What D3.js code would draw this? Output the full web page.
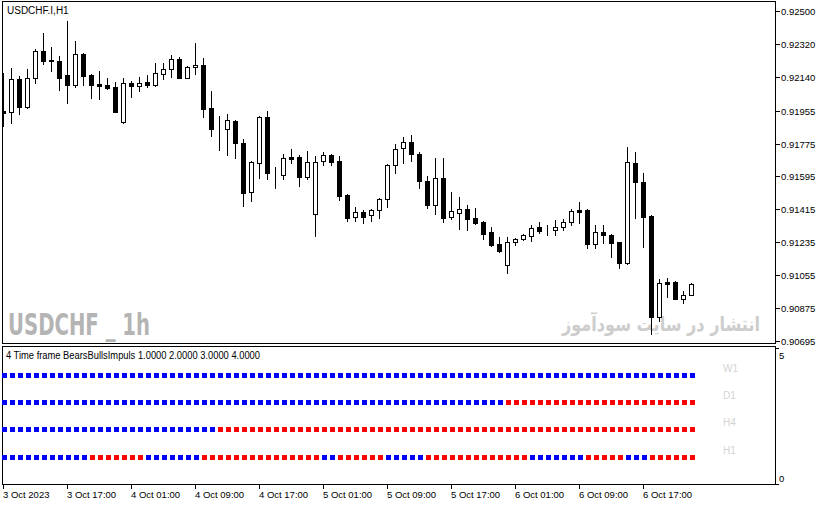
<!DOCTYPE html>
<html>
<head>
<meta charset="utf-8">
<script src="https://cdnjs.cloudflare.com/ajax/libs/d3/7.8.5/d3.min.js"></script>
<style>
  body { margin: 0; background: #fff; }
  svg { display: block; font-family: "Liberation Sans", Arial, sans-serif; }
</style>
</head>
<body>
<div id="chart"></div>
<script>
// USDCHF.I H1 bars, 3 Oct 2023 09:00 .. 6 Oct 2023 23:00
var startTime = new Date(2023, 9, 3, 9, 0)

var opens = [0.91953,0.91948,0.92128,0.91975,0.92134,0.92281,0.92232,0.92227,0.92150,0.92095,
  0.92265,0.92150,0.92101,0.92095,0.92084,0.91893,0.92106,0.92090,0.92112,0.92095,
  0.92155,0.92183,0.92237,0.92134,0.92194,0.92205,0.91969,0.91857,0.91855,0.91898,
  0.91778,0.91510,0.91669,0.91920,0.91610,0.91603,0.91701,0.91701,0.91592,0.91390,
  0.91680,0.91712,0.91680,0.91494,0.91373,0.91401,0.91384,0.91412,0.91472,0.91658,
  0.91751,0.91783,0.91718,0.91570,0.91439,0.91587,0.91373,0.91395,0.91417,0.91368,
  0.91346,0.91291,0.91226,0.91111,0.91236,0.91253,0.91269,0.91318,0.91308,0.91302,
  0.91318,0.91346,0.91409,0.91412,0.91226,0.91291,0.91275,0.91236,0.91122,0.91669,
  0.91565,0.91379,0.90826,0.91015,0.91018,0.90925,0.90947]
var highs = [0.92161,0.92188,0.92144,0.92183,0.92292,0.92380,0.92303,0.92254,0.92445,0.92336,
  0.92268,0.92153,0.92172,0.92134,0.92112,0.92134,0.92117,0.92139,0.92150,0.92216,
  0.92216,0.92259,0.92248,0.92199,0.92325,0.92243,0.92062,0.91926,0.91937,0.91904,
  0.91800,0.91677,0.91923,0.91953,0.91647,0.91718,0.91745,0.91712,0.91734,0.91707,
  0.91729,0.91718,0.91707,0.91497,0.91428,0.91412,0.91417,0.91477,0.91663,0.91772,
  0.91811,0.91822,0.91729,0.91597,0.91696,0.91696,0.91510,0.91483,0.91439,0.91422,
  0.91349,0.91318,0.91264,0.91264,0.91256,0.91278,0.91329,0.91346,0.91329,0.91357,
  0.91362,0.91417,0.91455,0.91417,0.91329,0.91329,0.91278,0.91239,0.91756,0.91729,
  0.91614,0.91382,0.91034,0.91040,0.91021,0.90968,0.91010]
var lows = [0.91871,0.91887,0.91937,0.91970,0.92106,0.92210,0.92172,0.92068,0.91997,0.92084,
  0.92095,0.92024,0.92019,0.92076,0.91945,0.91890,0.92030,0.92062,0.92084,0.92090,
  0.92128,0.92139,0.92131,0.92131,0.92155,0.91920,0.91816,0.91740,0.91712,0.91696,
  0.91433,0.91461,0.91587,0.91581,0.91532,0.91581,0.91669,0.91543,0.91581,0.91269,
  0.91658,0.91658,0.91466,0.91351,0.91351,0.91340,0.91351,0.91368,0.91428,0.91614,
  0.91669,0.91680,0.91532,0.91422,0.91390,0.91346,0.91362,0.91308,0.91302,0.91335,
  0.91253,0.91217,0.91182,0.91067,0.91220,0.91247,0.91242,0.91286,0.91275,0.91275,
  0.91302,0.91329,0.91340,0.91204,0.91204,0.91231,0.91154,0.91094,0.91114,0.91368,
  0.91209,0.90733,0.90804,0.90936,0.90922,0.90903,0.90944]
var closes = [0.91942,0.92128,0.91975,0.92134,0.92281,0.92227,0.92224,0.92134,0.92095,0.92265,
  0.92144,0.92095,0.92090,0.92079,0.91948,0.92106,0.92090,0.92106,0.92095,0.92161,
  0.92183,0.92237,0.92134,0.92194,0.92205,0.91964,0.91855,0.91852,0.91904,0.91778,
  0.91504,0.91674,0.91920,0.91614,0.91606,0.91696,0.91690,0.91592,0.91674,0.91674,
  0.91712,0.91674,0.91488,0.91368,0.91401,0.91373,0.91412,0.91472,0.91658,0.91745,
  0.91783,0.91718,0.91570,0.91439,0.91587,0.91368,0.91406,0.91417,0.91362,0.91340,
  0.91280,0.91220,0.91187,0.91236,0.91253,0.91275,0.91313,0.91297,0.91305,0.91318,
  0.91346,0.91406,0.91403,0.91226,0.91291,0.91275,0.91231,0.91122,0.91674,0.91565,
  0.91373,0.90826,0.91012,0.91009,0.90925,0.90947,0.91007]

// price scale labels (right side)
var priceTicks = [0.92500,0.92320,0.92140,0.91955,0.91775,0.91595,0.91415,0.91235,0.91055,0.90875,0.90695]

// time axis labels, one every 8 bars
var timeLabels = [`3 Oct 2023`,`3 Oct 17:00`,`4 Oct 01:00`,`4 Oct 09:00`,`4 Oct 17:00`,`5 Oct 01:00`,
  `5 Oct 09:00`,`5 Oct 17:00`,`6 Oct 01:00`,`6 Oct 09:00`,`6 Oct 17:00`]

// BearsBullsImpuls rows: 1 = bulls (blue), -1 = bears (red)
var rowNames = [`W1`,`D1`,`H4`,`H1`]
var rowLevels = [4,3,2,1]
var w1 = [1,1,1,1,1,1,1,1,1,1, 1,1,1,1,1,1,1,1,1,1, 1,1,1,1,1,1,1,1,1,1, 1,1,1,1,1,1,1,1,1,1,
  1,1,1,1,1,1,1,1,1,1, 1,1,1,1,1,1,1,1,1,1, 1,1,1,1,1,1,1,1,1,1, 1,1,1,1,1,1,1,1,1,1, 1,1,1,1,1,1,1]
var d1 = [1,1,1,1,1,1,1,1,1,1, 1,1,1,1,1,1,1,1,1,1, 1,1,1,1,1,1,1,1,1,1, 1,1,1,1,1,1,1,1,1,1,
  1,1,1,1,1,1,1,1,1,1, 1,1,1,1,1,1,1,1,1,1, 1,1,1,-1,-1,-1,-1,-1,-1,-1, -1,-1,-1,-1,-1,-1,-1,-1,-1,-1, -1,-1,-1,-1,-1,-1,-1]
var h4 = [1,1,1,1,1,1,1,1,1,1, 1,1,1,1,1,1,1,1,1,1, 1,1,1,1,1,1,1,-1,-1,-1, -1,-1,-1,-1,-1,-1,-1,-1,-1,-1,
  -1,-1,-1,-1,-1,-1,-1,-1,-1,-1, -1,-1,-1,-1,-1,-1,-1,-1,-1,-1, -1,-1,-1,-1,-1,-1,-1,-1,-1,-1, -1,-1,-1,-1,-1,-1,-1,-1,-1,-1, -1,-1,-1,-1,-1,-1,-1]
var h1 = [1,1,1,1,1,1,1,1,1,1, 1,-1,-1,-1,-1,-1,-1,-1,1,1, 1,1,1,1,1,-1,-1,-1,-1,-1, -1,-1,-1,-1,-1,-1,-1,-1,-1,-1,
  1,1,-1,-1,-1,-1,-1,-1,1,1, 1,1,1,-1,-1,-1,-1,-1,-1,-1, -1,-1,-1,-1,-1,-1,1,1,1,1, 1,1,1,-1,-1,-1,-1,-1,1,1, 1,-1,-1,-1,-1,-1,-1]
var rows = [w1, d1, h4, h1]

var width = 821, height = 506
var left = 2.5, right = 775.5
var mainTop = 1.5, mainBottom = 343.5
var indTop = 346.5, indBottom = 484.5

var times = opens.map(function (d, i) { return d3.timeHour.offset(startTime, i) })
var bars = opens.map(function (d, i) {
  return { t: times[i], o: opens[i], h: highs[i], l: lows[i], c: closes[i] }
})

var svg = d3.select(`#chart`).append(`svg`)
    .attr(`width`, width)
    .attr(`height`, height)
    .attr(`shape-rendering`, `crispEdges`)

var x = d3.scaleTime()
    .domain([times[0], times[times.length - 1]])
    .range([3, 3 + 8 * (times.length - 1)])
var y = d3.scaleLinear().domain([0.90695, 0.92500]).range([341, 11])
var yInd = d3.scaleLinear().domain([0, 5]).range([484, 347.5])

svg.append(`clipPath`).attr(`id`, `mainclip`).append(`rect`)
    .attr(`x`, left).attr(`y`, mainTop).attr(`width`, right - left).attr(`height`, mainBottom - mainTop)

// frames
svg.append(`rect`).attr(`x`, left).attr(`y`, mainTop)
    .attr(`width`, right - left).attr(`height`, mainBottom - mainTop)
    .attr(`fill`, `none`).attr(`stroke`, `#000`)
svg.append(`rect`).attr(`x`, left).attr(`y`, indTop)
    .attr(`width`, right - left).attr(`height`, indBottom - indTop)
    .attr(`fill`, `none`).attr(`stroke`, `#000`)

// watermarks
svg.append(`text`)
    .attr(`x`, 8).attr(`y`, 335)
    .attr(`textLength`, 142).attr(`lengthAdjust`, `spacingAndGlyphs`)
    .style(`font-family`, `"Liberation Sans Narrow", "DejaVu Sans Condensed", sans-serif`)
    .style(`font-weight`, `bold`).style(`font-size`, `30px`)
    .attr(`fill`, `#b4b4b4`)
    .text(`USDCHF _ 1h`)

svg.append(`text`)
    .attr(`x`, 562).attr(`y`, 331)
    .attr(`textLength`, 198).attr(`lengthAdjust`, `spacingAndGlyphs`)
    .style(`font-family`, `"DejaVu Sans", sans-serif`)
    .style(`font-weight`, `bold`).style(`font-size`, `20px`)
    .attr(`fill`, `#cdcdcd`)
    .text(`انتشار در سایت سودآموز`)

// candles
var plot = svg.append(`g`).attr(`clip-path`, `url(#mainclip)`)
var candle = plot.selectAll(`g.bar`).data(bars).enter().append(`g`).attr(`class`, `bar`)

candle.append(`line`)
    .attr(`x1`, function (d) { return x(d.t) + 0.5 })
    .attr(`x2`, function (d) { return x(d.t) + 0.5 })
    .attr(`y1`, function (d) { return Math.round(y(d.h)) })
    .attr(`y2`, function (d) { return Math.round(y(d.l)) + 1 })
    .attr(`stroke`, `#000`)

candle.append(`rect`)
    .attr(`x`, function (d) { return x(d.t) - 1.5 })
    .attr(`y`, function (d) { return Math.round(y(Math.max(d.o, d.c))) + 0.5 })
    .attr(`width`, 4)
    .attr(`height`, function (d) {
      return Math.max(0, Math.round(y(Math.min(d.o, d.c))) - Math.round(y(Math.max(d.o, d.c))))
    })
    .attr(`fill`, function (d) { return d.c > d.o ? `#fff` : `#000` })
    .attr(`stroke`, `#000`)

// price axis
var yAxis = svg.append(`g`)
priceTicks.forEach(function (p) {
  var py = Math.round(y(p)) + 0.5
  yAxis.append(`line`).attr(`x1`, right).attr(`x2`, right + 4).attr(`y1`, py).attr(`y2`, py).attr(`stroke`, `#000`)
  yAxis.append(`text`).attr(`x`, 781).attr(`y`, py + 3.5)
      .style(`font-size`, `9.5px`).attr(`fill`, `#000`)
      .text(p.toFixed(5))
})

// titles
svg.append(`text`).attr(`x`, 7).attr(`y`, 14)
    .style(`font-size`, `10px`).text(`USDCHF.I,H1`)
svg.append(`text`).attr(`x`, 6).attr(`y`, 359)
    .attr(`textLength`, 254).attr(`lengthAdjust`, `spacingAndGlyphs`)
    .style(`font-size`, `10px`).text(`4 Time frame BearsBullsImpuls 1.0000 2.0000 3.0000 4.0000`)

// indicator dots
rows.forEach(function (row, r) {
  svg.append(`g`).selectAll(`rect`).data(row).enter().append(`rect`)
      .attr(`x`, function (d, i) { return x(times[i]) - 1 })
      .attr(`y`, Math.round(yInd(rowLevels[r])) - 2)
      .attr(`width`, 5)
      .attr(`height`, 5)
      .attr(`fill`, function (d) { return d > 0 ? `#0000ff` : `#ff0000` })

  svg.append(`text`)
      .attr(`x`, 723).attr(`y`, Math.round(yInd(rowLevels[r])) - 3)
      .style(`font-size`, `10px`).attr(`fill`, `#d3d3d3`)
      .text(rowNames[r])
})

// indicator scale 0..5
var indAxis = svg.append(`g`)
;[5, 0].forEach(function (v) {
  var py = Math.round(yInd(v)) + 0.5
  indAxis.append(`line`).attr(`x1`, right).attr(`x2`, right + 3).attr(`y1`, py).attr(`y2`, py).attr(`stroke`, `#000`)
  indAxis.append(`text`).attr(`x`, 779).attr(`y`, v === 5 ? py + 10 : py - 3)
      .style(`font-size`, `9.5px`).text(v)
})

// time axis
var xAxis = svg.append(`g`)
timeLabels.forEach(function (lbl, k) {
  var px = x(times[k * 8]) + 0.5
  xAxis.append(`line`).attr(`x1`, px).attr(`x2`, px).attr(`y1`, indBottom).attr(`y2`, indBottom + 4).attr(`stroke`, `#000`)
  xAxis.append(`text`).attr(`x`, px - 0.5).attr(`y`, 498)
      .style(`font-size`, `9.5px`).text(lbl)
})
</script>
</body>
</html>
